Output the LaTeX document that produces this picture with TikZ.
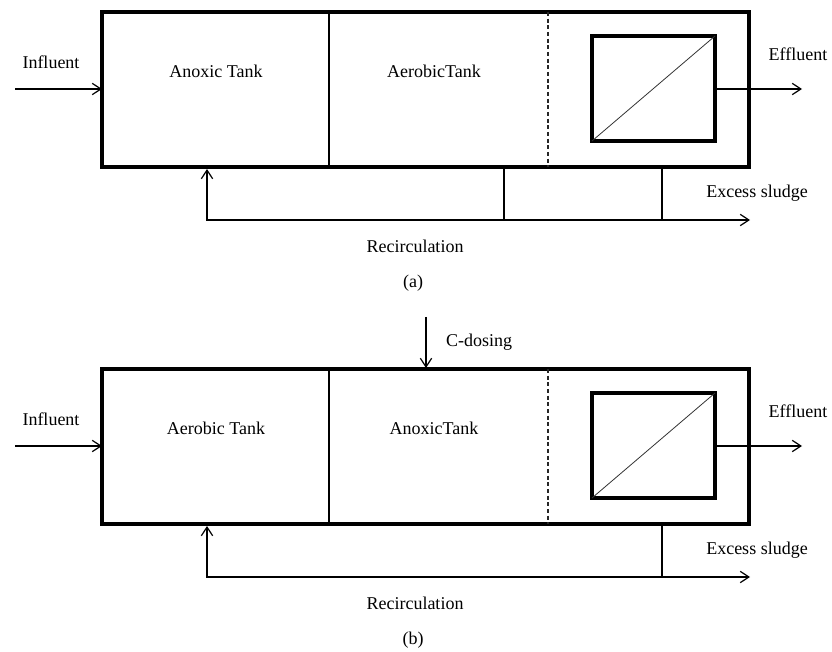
\documentclass[tikz,border=0pt]{standalone}
\usepackage{fontspec}
\setmainfont{Liberation Serif}
\usetikzlibrary{arrows.meta}

\begin{document}
\begin{tikzpicture}[x=0.75pt,y=-0.75pt,
    tank/.style={line width=3pt},
    membrane/.style={line width=2.7pt},
    pipe/.style={line width=0.9pt},
    flow/.style={pipe,-{Straight Barb[length=6.5pt,width=8.5pt]}},
    lbl/.style={font=\fontsize{13.5}{16}\selectfont}]
    \useasboundingbox (0,0) rectangle (832,652);
    \foreach \p/\dy/\first/\second in {a/0/Anoxic Tank/AerobicTank, b/357/Aerobic Tank/AnoxicTank}{
        \begin{scope}[shift={(0,\dy)}]
            % reactor with membrane
            \coordinate (\p-nw) at (102,12);
            \coordinate (\p-se) at (749,167);
            \draw[tank] (\p-nw) rectangle (\p-se);
            \draw[pipe] (329,12) -- (329,167);
            \draw[pipe,dashed,dash pattern=on 3pt off 2pt,black!85] (548,12) -- (548,167);
            \coordinate (\p-msw) at (592,141);
            \coordinate (\p-mne) at (715,36);
            \draw[membrane] (\p-msw) rectangle (\p-mne);
            \draw[line width=0.6pt,black!80] (\p-msw) -- (\p-mne);
            \node[lbl] (\p-t1) at (216,71) {\first};
            \node[lbl] (\p-t2) at (434,71) {\second};
            % in and out
            \coordinate (\p-in) at (15,89);
            \coordinate (\p-inend) at (102,89);
            \draw[flow] (\p-in) -- (\p-inend);
            \node[lbl] (\p-inf) at (51,62) {Influent};
            \coordinate (\p-out) at (715,89);
            \coordinate (\p-outend) at (802,89);
            \draw[flow] (\p-out) -- (\p-outend);
            \node[lbl] (\p-eff) at (798,54) {Effluent};
            % sludge lines
            \coordinate (\p-sl) at (662,220);
            \coordinate (\p-up) at (207,169);
            \coordinate (\p-ex) at (750,220);
            \draw[pipe] (662,167) -- (\p-sl);
            \draw[flow] (\p-sl) -- (207,220) -- (\p-up);
            \draw[flow] (\p-sl) -- (\p-ex);
            \node[lbl] (\p-exs) at (757,193) {Excess sludge};
            \node[lbl] (\p-rec) at (415,246) {Recirculation};
            \node[lbl] (\p-cap) at (413,283) {(\p)};
        \end{scope}
    }
    \draw[pipe] (504,167) -- (504,220);
    % carbon dosing
    \coordinate (dose) at (426,317);
    \coordinate (dose-end) at (426,368);
    \draw[flow] (dose) -- (dose-end);
    \node[lbl] (dose-lbl) at (479,342) {C-dosing};
\end{tikzpicture}
\end{document}
